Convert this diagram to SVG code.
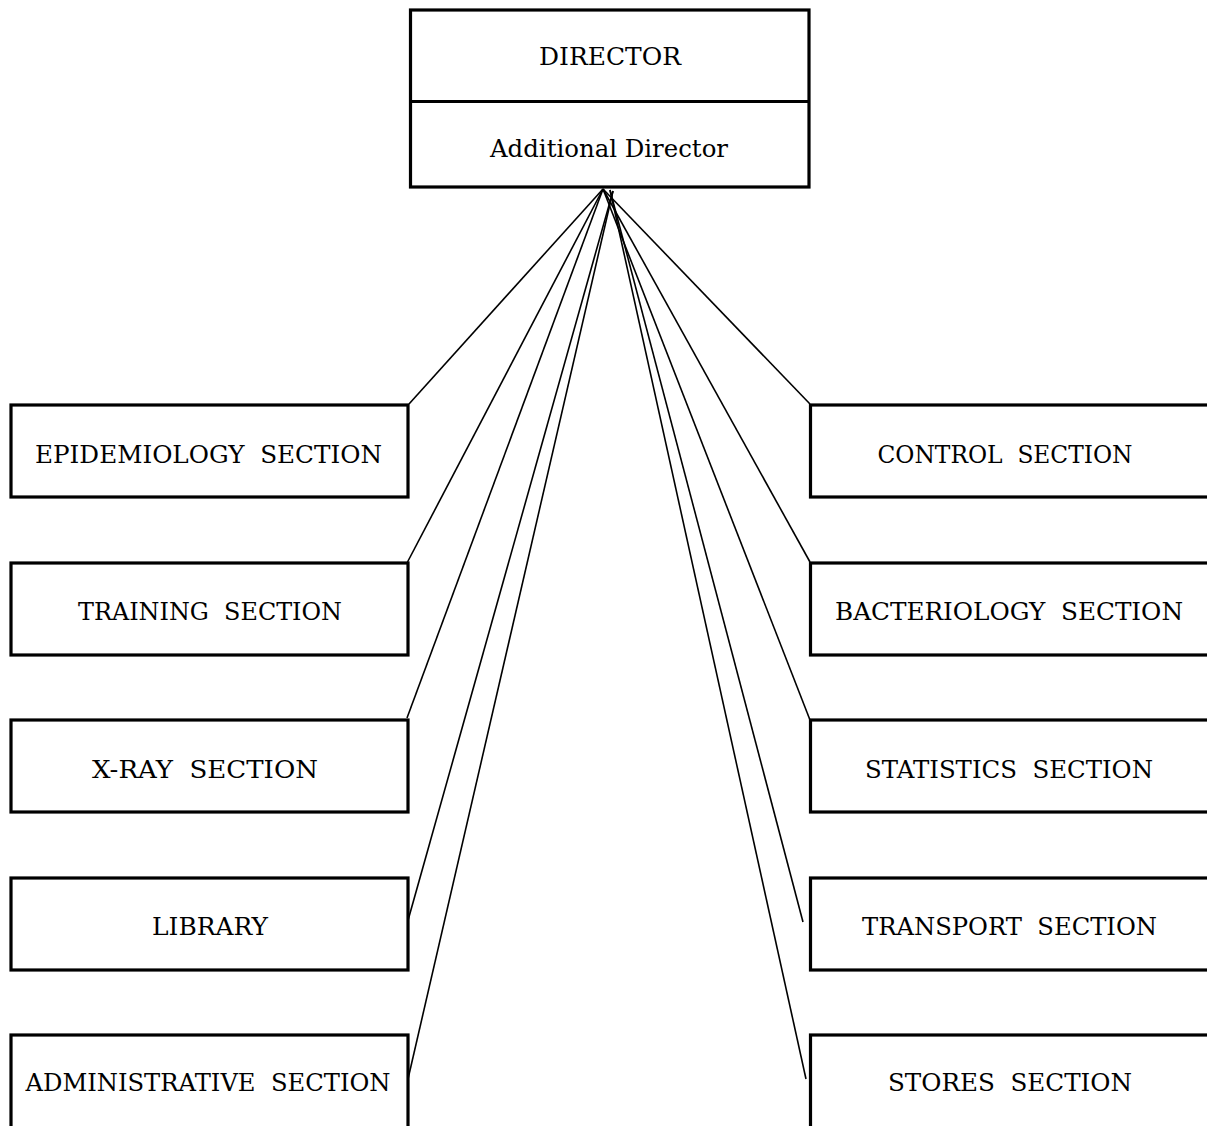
<svg xmlns="http://www.w3.org/2000/svg" width="1207" height="1126" viewBox="0 0 1207 1126">
<style>
.box{fill:#fff;stroke:#000;stroke-width:3.2}
.lbl{font-family:"DejaVu Serif","Liberation Serif",serif;font-size:25px;fill:#000;white-space:pre}
.con line{stroke:#000;stroke-width:1.6}
</style>
<rect width="1207" height="1126" fill="#fff"/>
<g id="director">
<rect class="box" x="410.5" y="10" width="398.5" height="177"/>
<line x1="410.5" y1="101.5" x2="809" y2="101.5" stroke="#000" stroke-width="3.2"/>
<text class="lbl" x="610" y="65" text-anchor="middle" textLength="142" lengthAdjust="spacingAndGlyphs">DIRECTOR</text>
<text class="lbl" x="609" y="157" text-anchor="middle" textLength="238" lengthAdjust="spacingAndGlyphs">Additional Director</text>
</g>
<g class="con" id="connectors">
<line x1="603" y1="189" x2="409" y2="404"/>
<line x1="603" y1="189" x2="407" y2="563"/>
<line x1="603" y1="189" x2="407" y2="718"/>
<line x1="613" y1="191" x2="407" y2="924"/>
<line x1="613" y1="191" x2="405" y2="1092"/>
<line x1="603" y1="189" x2="810" y2="404"/>
<line x1="603" y1="189" x2="810" y2="562"/>
<line x1="603" y1="189" x2="810" y2="720"/>
<line x1="610" y1="190" x2="803" y2="922"/>
<line x1="610" y1="190" x2="806" y2="1079"/>
</g>
<g id="epidemiology">
<rect class="box" x="11" y="405" width="397" height="92"/>
<text class="lbl" x="208.5" y="463" text-anchor="middle" textLength="347" lengthAdjust="spacingAndGlyphs">EPIDEMIOLOGY  SECTION</text>
</g>
<g id="training">
<rect class="box" x="11" y="563" width="397" height="92"/>
<text class="lbl" x="210" y="620" text-anchor="middle" textLength="264" lengthAdjust="spacingAndGlyphs">TRAINING  SECTION</text>
</g>
<g id="xray">
<rect class="box" x="11" y="720" width="397" height="92"/>
<text class="lbl" x="205" y="778" text-anchor="middle" textLength="226" lengthAdjust="spacingAndGlyphs">X-RAY  SECTION</text>
</g>
<g id="library">
<rect class="box" x="11" y="878" width="397" height="92"/>
<text class="lbl" x="210" y="935" text-anchor="middle" textLength="116" lengthAdjust="spacingAndGlyphs">LIBRARY</text>
</g>
<g id="administrative">
<rect class="box" x="11" y="1035" width="397" height="120"/>
<text class="lbl" x="208" y="1091" text-anchor="middle" textLength="365" lengthAdjust="spacingAndGlyphs">ADMINISTRATIVE  SECTION</text>
</g>
<g id="control">
<rect class="box" x="810.5" y="405" width="420" height="92"/>
<text class="lbl" x="1005" y="463" text-anchor="middle" textLength="255" lengthAdjust="spacingAndGlyphs">CONTROL  SECTION</text>
</g>
<g id="bacteriology">
<rect class="box" x="810.5" y="563" width="420" height="92"/>
<text class="lbl" x="1009" y="620" text-anchor="middle" textLength="348" lengthAdjust="spacingAndGlyphs">BACTERIOLOGY  SECTION</text>
</g>
<g id="statistics">
<rect class="box" x="810.5" y="720" width="420" height="92"/>
<text class="lbl" x="1009" y="778" text-anchor="middle" textLength="288" lengthAdjust="spacingAndGlyphs">STATISTICS  SECTION</text>
</g>
<g id="transport">
<rect class="box" x="810.5" y="878" width="420" height="92"/>
<text class="lbl" x="1009.5" y="935" text-anchor="middle" textLength="295" lengthAdjust="spacingAndGlyphs">TRANSPORT  SECTION</text>
</g>
<g id="stores">
<rect class="box" x="810.5" y="1035" width="420" height="120"/>
<text class="lbl" x="1010" y="1091" text-anchor="middle" textLength="244" lengthAdjust="spacingAndGlyphs">STORES  SECTION</text>
</g>
</svg>
